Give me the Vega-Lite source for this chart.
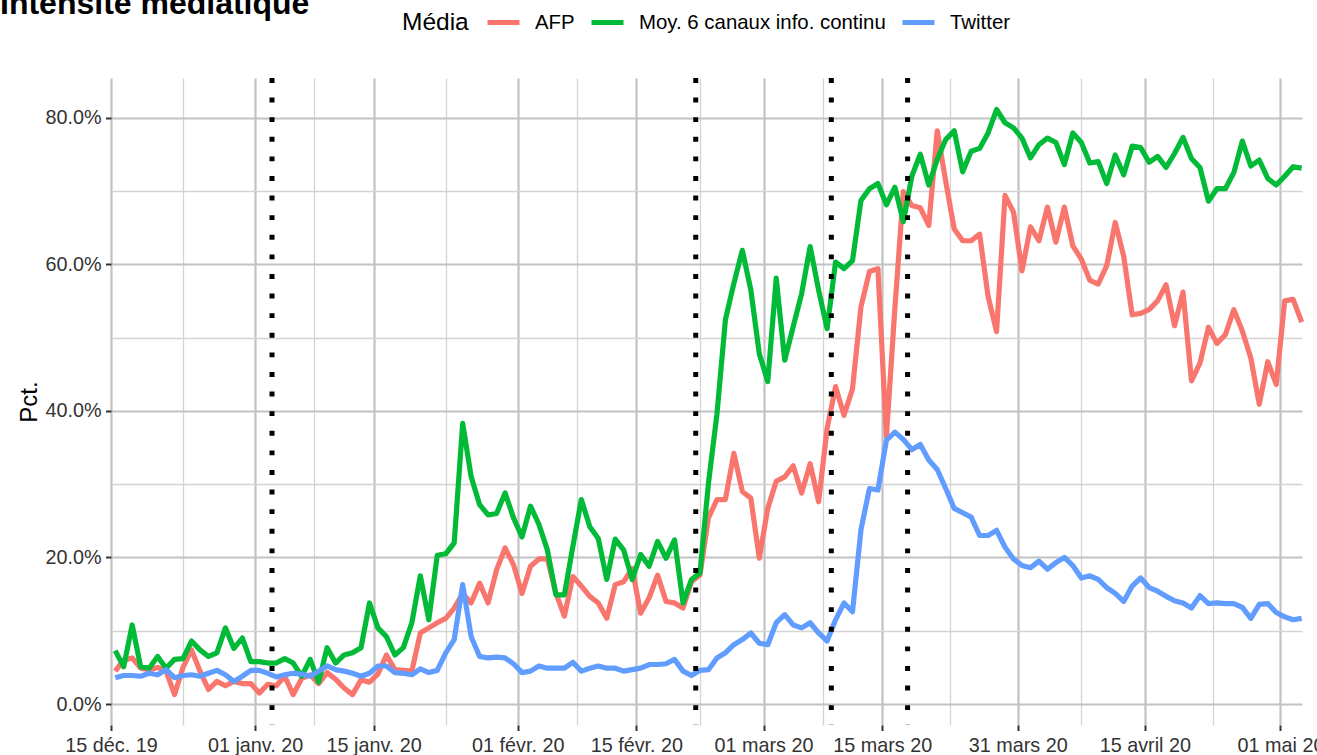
{
"$schema": "https://vega.github.io/schema/vega-lite/v6.json",
"width": 1191,
"height": 647,
"autosize": {"type": "none"},
"padding": {"left": 111, "top": 78, "right": 15, "bottom": 30},
"background": "white",
"config": {"font": "Liberation Sans", "view": {"stroke": null}},
"title": {"text": "Intensité médiatique", "anchor": "start", "frame": "group", "fontSize": 32, "fontWeight": "bold", "color": "black", "dx": -111, "offset": -42, "baseline": "alphabetic"},
"datasets": {
"events": [{"date": "2020-01-03T00:00Z"}, {"date": "2020-02-22T00:00Z"}, {"date": "2020-03-09T00:00Z"}, {"date": "2020-03-18T00:00Z"}],
"series": [
{"date":"2019-12-15T12:00Z","media":"AFP","pct":4.5},{"date":"2019-12-16T12:00Z","media":"AFP","pct":6.0},{"date":"2019-12-17T12:00Z","media":"AFP","pct":6.3},{"date":"2019-12-18T12:00Z","media":"AFP","pct":4.9},{"date":"2019-12-19T12:00Z","media":"AFP","pct":4.7},{"date":"2019-12-20T12:00Z","media":"AFP","pct":5.0},{"date":"2019-12-21T12:00Z","media":"AFP","pct":4.5},{"date":"2019-12-22T12:00Z","media":"AFP","pct":1.3},{"date":"2019-12-23T12:00Z","media":"AFP","pct":5.0},{"date":"2019-12-24T12:00Z","media":"AFP","pct":7.4},{"date":"2019-12-25T12:00Z","media":"AFP","pct":4.5},{"date":"2019-12-26T12:00Z","media":"AFP","pct":2.0},{"date":"2019-12-27T12:00Z","media":"AFP","pct":3.1},{"date":"2019-12-28T12:00Z","media":"AFP","pct":2.5},{"date":"2019-12-29T12:00Z","media":"AFP","pct":3.1},{"date":"2019-12-30T12:00Z","media":"AFP","pct":2.8},{"date":"2019-12-31T12:00Z","media":"AFP","pct":2.8},
{"date":"2020-01-01T12:00Z","media":"AFP","pct":1.5},{"date":"2020-01-02T12:00Z","media":"AFP","pct":2.7},{"date":"2020-01-03T12:00Z","media":"AFP","pct":2.5},{"date":"2020-01-04T12:00Z","media":"AFP","pct":3.8},{"date":"2020-01-05T12:00Z","media":"AFP","pct":1.3},{"date":"2020-01-06T12:00Z","media":"AFP","pct":3.5},{"date":"2020-01-07T12:00Z","media":"AFP","pct":4.0},{"date":"2020-01-08T12:00Z","media":"AFP","pct":2.8},{"date":"2020-01-09T12:00Z","media":"AFP","pct":4.3},{"date":"2020-01-10T12:00Z","media":"AFP","pct":3.4},{"date":"2020-01-11T12:00Z","media":"AFP","pct":2.2},{"date":"2020-01-12T12:00Z","media":"AFP","pct":1.3},{"date":"2020-01-13T12:00Z","media":"AFP","pct":3.3},{"date":"2020-01-14T12:00Z","media":"AFP","pct":3.0},{"date":"2020-01-15T12:00Z","media":"AFP","pct":4.1},{"date":"2020-01-16T12:00Z","media":"AFP","pct":6.7},{"date":"2020-01-17T12:00Z","media":"AFP","pct":4.7},{"date":"2020-01-18T12:00Z","media":"AFP","pct":4.6},{"date":"2020-01-19T12:00Z","media":"AFP","pct":4.5},{"date":"2020-01-20T12:00Z","media":"AFP","pct":9.7},{"date":"2020-01-21T12:00Z","media":"AFP","pct":10.4},{"date":"2020-01-22T12:00Z","media":"AFP","pct":11.1},{"date":"2020-01-23T12:00Z","media":"AFP","pct":11.7},{"date":"2020-01-24T12:00Z","media":"AFP","pct":13.1},{"date":"2020-01-25T12:00Z","media":"AFP","pct":15.1},{"date":"2020-01-26T12:00Z","media":"AFP","pct":13.8},{"date":"2020-01-27T12:00Z","media":"AFP","pct":16.5},{"date":"2020-01-28T12:00Z","media":"AFP","pct":13.8},{"date":"2020-01-29T12:00Z","media":"AFP","pct":18.3},{"date":"2020-01-30T12:00Z","media":"AFP","pct":21.3},{"date":"2020-01-31T12:00Z","media":"AFP","pct":19.0},
{"date":"2020-02-01T12:00Z","media":"AFP","pct":15.1},{"date":"2020-02-02T12:00Z","media":"AFP","pct":18.8},{"date":"2020-02-03T12:00Z","media":"AFP","pct":19.8},{"date":"2020-02-04T12:00Z","media":"AFP","pct":19.8},{"date":"2020-02-05T12:00Z","media":"AFP","pct":15.1},{"date":"2020-02-06T12:00Z","media":"AFP","pct":12.0},{"date":"2020-02-07T12:00Z","media":"AFP","pct":17.4},{"date":"2020-02-08T12:00Z","media":"AFP","pct":16.1},{"date":"2020-02-09T12:00Z","media":"AFP","pct":14.7},{"date":"2020-02-10T12:00Z","media":"AFP","pct":13.8},{"date":"2020-02-11T12:00Z","media":"AFP","pct":11.7},{"date":"2020-02-12T12:00Z","media":"AFP","pct":16.3},{"date":"2020-02-13T12:00Z","media":"AFP","pct":16.7},{"date":"2020-02-14T12:00Z","media":"AFP","pct":18.5},{"date":"2020-02-15T12:00Z","media":"AFP","pct":12.4},{"date":"2020-02-16T12:00Z","media":"AFP","pct":14.5},{"date":"2020-02-17T12:00Z","media":"AFP","pct":17.6},{"date":"2020-02-18T12:00Z","media":"AFP","pct":14.0},{"date":"2020-02-19T12:00Z","media":"AFP","pct":13.8},{"date":"2020-02-20T12:00Z","media":"AFP","pct":13.1},{"date":"2020-02-21T12:00Z","media":"AFP","pct":16.7},{"date":"2020-02-22T12:00Z","media":"AFP","pct":17.6},{"date":"2020-02-23T12:00Z","media":"AFP","pct":25.4},{"date":"2020-02-24T12:00Z","media":"AFP","pct":27.9},{"date":"2020-02-25T12:00Z","media":"AFP","pct":27.9},{"date":"2020-02-26T12:00Z","media":"AFP","pct":34.2},{"date":"2020-02-27T12:00Z","media":"AFP","pct":29.0},{"date":"2020-02-28T12:00Z","media":"AFP","pct":28.1},{"date":"2020-02-29T12:00Z","media":"AFP","pct":19.9},
{"date":"2020-03-01T12:00Z","media":"AFP","pct":26.7},{"date":"2020-03-02T12:00Z","media":"AFP","pct":30.4},{"date":"2020-03-03T12:00Z","media":"AFP","pct":31.0},{"date":"2020-03-04T12:00Z","media":"AFP","pct":32.5},{"date":"2020-03-05T12:00Z","media":"AFP","pct":28.8},{"date":"2020-03-06T12:00Z","media":"AFP","pct":32.8},{"date":"2020-03-07T12:00Z","media":"AFP","pct":27.6},{"date":"2020-03-08T12:00Z","media":"AFP","pct":37.6},{"date":"2020-03-09T12:00Z","media":"AFP","pct":43.3},{"date":"2020-03-10T12:00Z","media":"AFP","pct":39.4},{"date":"2020-03-11T12:00Z","media":"AFP","pct":43.0},{"date":"2020-03-12T12:00Z","media":"AFP","pct":54.2},{"date":"2020-03-13T12:00Z","media":"AFP","pct":59.0},{"date":"2020-03-14T12:00Z","media":"AFP","pct":59.4},{"date":"2020-03-15T12:00Z","media":"AFP","pct":36.5},{"date":"2020-03-16T12:00Z","media":"AFP","pct":54.0},{"date":"2020-03-17T12:00Z","media":"AFP","pct":69.9},{"date":"2020-03-18T12:00Z","media":"AFP","pct":68.0},{"date":"2020-03-19T12:00Z","media":"AFP","pct":67.7},{"date":"2020-03-20T12:00Z","media":"AFP","pct":65.3},{"date":"2020-03-21T12:00Z","media":"AFP","pct":78.2},{"date":"2020-03-22T12:00Z","media":"AFP","pct":71.3},{"date":"2020-03-23T12:00Z","media":"AFP","pct":64.8},{"date":"2020-03-24T12:00Z","media":"AFP","pct":63.2},{"date":"2020-03-25T12:00Z","media":"AFP","pct":63.2},{"date":"2020-03-26T12:00Z","media":"AFP","pct":64.1},{"date":"2020-03-27T12:00Z","media":"AFP","pct":55.6},{"date":"2020-03-28T12:00Z","media":"AFP","pct":50.8},{"date":"2020-03-29T12:00Z","media":"AFP","pct":69.4},{"date":"2020-03-30T12:00Z","media":"AFP","pct":67.1},{"date":"2020-03-31T12:00Z","media":"AFP","pct":59.1},
{"date":"2020-04-01T12:00Z","media":"AFP","pct":65.1},{"date":"2020-04-02T12:00Z","media":"AFP","pct":63.2},{"date":"2020-04-03T12:00Z","media":"AFP","pct":67.8},{"date":"2020-04-04T12:00Z","media":"AFP","pct":63.0},{"date":"2020-04-05T12:00Z","media":"AFP","pct":67.8},{"date":"2020-04-06T12:00Z","media":"AFP","pct":62.5},{"date":"2020-04-07T12:00Z","media":"AFP","pct":60.7},{"date":"2020-04-08T12:00Z","media":"AFP","pct":57.8},{"date":"2020-04-09T12:00Z","media":"AFP","pct":57.3},{"date":"2020-04-10T12:00Z","media":"AFP","pct":59.8},{"date":"2020-04-11T12:00Z","media":"AFP","pct":65.7},{"date":"2020-04-12T12:00Z","media":"AFP","pct":61.1},{"date":"2020-04-13T12:00Z","media":"AFP","pct":53.1},{"date":"2020-04-14T12:00Z","media":"AFP","pct":53.3},{"date":"2020-04-15T12:00Z","media":"AFP","pct":53.8},{"date":"2020-04-16T12:00Z","media":"AFP","pct":55.0},{"date":"2020-04-17T12:00Z","media":"AFP","pct":57.2},{"date":"2020-04-18T12:00Z","media":"AFP","pct":51.6},{"date":"2020-04-19T12:00Z","media":"AFP","pct":56.2},{"date":"2020-04-20T12:00Z","media":"AFP","pct":44.1},{"date":"2020-04-21T12:00Z","media":"AFP","pct":46.5},{"date":"2020-04-22T12:00Z","media":"AFP","pct":51.4},{"date":"2020-04-23T12:00Z","media":"AFP","pct":49.2},{"date":"2020-04-24T12:00Z","media":"AFP","pct":50.4},{"date":"2020-04-25T12:00Z","media":"AFP","pct":53.8},{"date":"2020-04-26T12:00Z","media":"AFP","pct":50.9},{"date":"2020-04-27T12:00Z","media":"AFP","pct":47.2},{"date":"2020-04-28T12:00Z","media":"AFP","pct":40.9},{"date":"2020-04-29T12:00Z","media":"AFP","pct":46.7},{"date":"2020-04-30T12:00Z","media":"AFP","pct":43.6},{"date":"2020-05-01T12:00Z","media":"AFP","pct":55.0},{"date":"2020-05-02T12:00Z","media":"AFP","pct":55.2},{"date":"2020-05-03T12:00Z","media":"AFP","pct":52.1},
{"date":"2019-12-15T12:00Z","media":"Moy. 6 canaux info. continu","pct":7.3},{"date":"2019-12-16T12:00Z","media":"Moy. 6 canaux info. continu","pct":5.1},{"date":"2019-12-17T12:00Z","media":"Moy. 6 canaux info. continu","pct":10.8},{"date":"2019-12-18T12:00Z","media":"Moy. 6 canaux info. continu","pct":5.1},{"date":"2019-12-19T12:00Z","media":"Moy. 6 canaux info. continu","pct":4.9},{"date":"2019-12-20T12:00Z","media":"Moy. 6 canaux info. continu","pct":6.5},{"date":"2019-12-21T12:00Z","media":"Moy. 6 canaux info. continu","pct":4.9},{"date":"2019-12-22T12:00Z","media":"Moy. 6 canaux info. continu","pct":6.1},{"date":"2019-12-23T12:00Z","media":"Moy. 6 canaux info. continu","pct":6.2},{"date":"2019-12-24T12:00Z","media":"Moy. 6 canaux info. continu","pct":8.6},{"date":"2019-12-25T12:00Z","media":"Moy. 6 canaux info. continu","pct":7.4},{"date":"2019-12-26T12:00Z","media":"Moy. 6 canaux info. continu","pct":6.5},{"date":"2019-12-27T12:00Z","media":"Moy. 6 canaux info. continu","pct":7.0},{"date":"2019-12-28T12:00Z","media":"Moy. 6 canaux info. continu","pct":10.4},{"date":"2019-12-29T12:00Z","media":"Moy. 6 canaux info. continu","pct":7.6},{"date":"2019-12-30T12:00Z","media":"Moy. 6 canaux info. continu","pct":9.0},{"date":"2019-12-31T12:00Z","media":"Moy. 6 canaux info. continu","pct":5.8},
{"date":"2020-01-01T12:00Z","media":"Moy. 6 canaux info. continu","pct":5.8},{"date":"2020-01-02T12:00Z","media":"Moy. 6 canaux info. continu","pct":5.6},{"date":"2020-01-03T12:00Z","media":"Moy. 6 canaux info. continu","pct":5.6},{"date":"2020-01-04T12:00Z","media":"Moy. 6 canaux info. continu","pct":6.2},{"date":"2020-01-05T12:00Z","media":"Moy. 6 canaux info. continu","pct":5.6},{"date":"2020-01-06T12:00Z","media":"Moy. 6 canaux info. continu","pct":3.8},{"date":"2020-01-07T12:00Z","media":"Moy. 6 canaux info. continu","pct":6.1},{"date":"2020-01-08T12:00Z","media":"Moy. 6 canaux info. continu","pct":3.0},{"date":"2020-01-09T12:00Z","media":"Moy. 6 canaux info. continu","pct":7.7},{"date":"2020-01-10T12:00Z","media":"Moy. 6 canaux info. continu","pct":5.6},{"date":"2020-01-11T12:00Z","media":"Moy. 6 canaux info. continu","pct":6.7},{"date":"2020-01-12T12:00Z","media":"Moy. 6 canaux info. continu","pct":7.0},{"date":"2020-01-13T12:00Z","media":"Moy. 6 canaux info. continu","pct":7.7},{"date":"2020-01-14T12:00Z","media":"Moy. 6 canaux info. continu","pct":13.8},{"date":"2020-01-15T12:00Z","media":"Moy. 6 canaux info. continu","pct":10.4},{"date":"2020-01-16T12:00Z","media":"Moy. 6 canaux info. continu","pct":9.2},{"date":"2020-01-17T12:00Z","media":"Moy. 6 canaux info. continu","pct":6.7},{"date":"2020-01-18T12:00Z","media":"Moy. 6 canaux info. continu","pct":7.7},{"date":"2020-01-19T12:00Z","media":"Moy. 6 canaux info. continu","pct":11.1},{"date":"2020-01-20T12:00Z","media":"Moy. 6 canaux info. continu","pct":17.5},{"date":"2020-01-21T12:00Z","media":"Moy. 6 canaux info. continu","pct":11.5},{"date":"2020-01-22T12:00Z","media":"Moy. 6 canaux info. continu","pct":20.3},{"date":"2020-01-23T12:00Z","media":"Moy. 6 canaux info. continu","pct":20.5},{"date":"2020-01-24T12:00Z","media":"Moy. 6 canaux info. continu","pct":22.0},{"date":"2020-01-25T12:00Z","media":"Moy. 6 canaux info. continu","pct":38.3},{"date":"2020-01-26T12:00Z","media":"Moy. 6 canaux info. continu","pct":31.0},{"date":"2020-01-27T12:00Z","media":"Moy. 6 canaux info. continu","pct":27.2},{"date":"2020-01-28T12:00Z","media":"Moy. 6 canaux info. continu","pct":25.8},{"date":"2020-01-29T12:00Z","media":"Moy. 6 canaux info. continu","pct":26.0},{"date":"2020-01-30T12:00Z","media":"Moy. 6 canaux info. continu","pct":28.8},{"date":"2020-01-31T12:00Z","media":"Moy. 6 canaux info. continu","pct":25.4},
{"date":"2020-02-01T12:00Z","media":"Moy. 6 canaux info. continu","pct":22.8},{"date":"2020-02-02T12:00Z","media":"Moy. 6 canaux info. continu","pct":27.0},{"date":"2020-02-03T12:00Z","media":"Moy. 6 canaux info. continu","pct":24.5},{"date":"2020-02-04T12:00Z","media":"Moy. 6 canaux info. continu","pct":21.0},{"date":"2020-02-05T12:00Z","media":"Moy. 6 canaux info. continu","pct":14.9},{"date":"2020-02-06T12:00Z","media":"Moy. 6 canaux info. continu","pct":14.9},{"date":"2020-02-07T12:00Z","media":"Moy. 6 canaux info. continu","pct":21.5},{"date":"2020-02-08T12:00Z","media":"Moy. 6 canaux info. continu","pct":27.9},{"date":"2020-02-09T12:00Z","media":"Moy. 6 canaux info. continu","pct":24.2},{"date":"2020-02-10T12:00Z","media":"Moy. 6 canaux info. continu","pct":22.6},{"date":"2020-02-11T12:00Z","media":"Moy. 6 canaux info. continu","pct":17.0},{"date":"2020-02-12T12:00Z","media":"Moy. 6 canaux info. continu","pct":22.5},{"date":"2020-02-13T12:00Z","media":"Moy. 6 canaux info. continu","pct":21.0},{"date":"2020-02-14T12:00Z","media":"Moy. 6 canaux info. continu","pct":17.0},{"date":"2020-02-15T12:00Z","media":"Moy. 6 canaux info. continu","pct":20.4},{"date":"2020-02-16T12:00Z","media":"Moy. 6 canaux info. continu","pct":18.8},{"date":"2020-02-17T12:00Z","media":"Moy. 6 canaux info. continu","pct":22.2},{"date":"2020-02-18T12:00Z","media":"Moy. 6 canaux info. continu","pct":19.9},{"date":"2020-02-19T12:00Z","media":"Moy. 6 canaux info. continu","pct":22.4},{"date":"2020-02-20T12:00Z","media":"Moy. 6 canaux info. continu","pct":13.8},{"date":"2020-02-21T12:00Z","media":"Moy. 6 canaux info. continu","pct":17.0},{"date":"2020-02-22T12:00Z","media":"Moy. 6 canaux info. continu","pct":17.9},{"date":"2020-02-23T12:00Z","media":"Moy. 6 canaux info. continu","pct":30.1},{"date":"2020-02-24T12:00Z","media":"Moy. 6 canaux info. continu","pct":39.5},{"date":"2020-02-25T12:00Z","media":"Moy. 6 canaux info. continu","pct":52.4},{"date":"2020-02-26T12:00Z","media":"Moy. 6 canaux info. continu","pct":57.4},{"date":"2020-02-27T12:00Z","media":"Moy. 6 canaux info. continu","pct":61.9},{"date":"2020-02-28T12:00Z","media":"Moy. 6 canaux info. continu","pct":56.5},{"date":"2020-02-29T12:00Z","media":"Moy. 6 canaux info. continu","pct":47.8},
{"date":"2020-03-01T12:00Z","media":"Moy. 6 canaux info. continu","pct":44.0},{"date":"2020-03-02T12:00Z","media":"Moy. 6 canaux info. continu","pct":58.1},{"date":"2020-03-03T12:00Z","media":"Moy. 6 canaux info. continu","pct":46.9},{"date":"2020-03-04T12:00Z","media":"Moy. 6 canaux info. continu","pct":51.5},{"date":"2020-03-05T12:00Z","media":"Moy. 6 canaux info. continu","pct":56.0},{"date":"2020-03-06T12:00Z","media":"Moy. 6 canaux info. continu","pct":62.4},{"date":"2020-03-07T12:00Z","media":"Moy. 6 canaux info. continu","pct":56.5},{"date":"2020-03-08T12:00Z","media":"Moy. 6 canaux info. continu","pct":51.2},{"date":"2020-03-09T12:00Z","media":"Moy. 6 canaux info. continu","pct":60.3},{"date":"2020-03-10T12:00Z","media":"Moy. 6 canaux info. continu","pct":59.4},{"date":"2020-03-11T12:00Z","media":"Moy. 6 canaux info. continu","pct":60.5},{"date":"2020-03-12T12:00Z","media":"Moy. 6 canaux info. continu","pct":68.7},{"date":"2020-03-13T12:00Z","media":"Moy. 6 canaux info. continu","pct":70.3},{"date":"2020-03-14T12:00Z","media":"Moy. 6 canaux info. continu","pct":71.0},{"date":"2020-03-15T12:00Z","media":"Moy. 6 canaux info. continu","pct":68.1},{"date":"2020-03-16T12:00Z","media":"Moy. 6 canaux info. continu","pct":70.5},{"date":"2020-03-17T12:00Z","media":"Moy. 6 canaux info. continu","pct":65.8},{"date":"2020-03-18T12:00Z","media":"Moy. 6 canaux info. continu","pct":72.0},{"date":"2020-03-19T12:00Z","media":"Moy. 6 canaux info. continu","pct":75.0},{"date":"2020-03-20T12:00Z","media":"Moy. 6 canaux info. continu","pct":70.8},{"date":"2020-03-21T12:00Z","media":"Moy. 6 canaux info. continu","pct":74.3},{"date":"2020-03-22T12:00Z","media":"Moy. 6 canaux info. continu","pct":77.0},{"date":"2020-03-23T12:00Z","media":"Moy. 6 canaux info. continu","pct":78.2},{"date":"2020-03-24T12:00Z","media":"Moy. 6 canaux info. continu","pct":72.6},{"date":"2020-03-25T12:00Z","media":"Moy. 6 canaux info. continu","pct":75.4},{"date":"2020-03-26T12:00Z","media":"Moy. 6 canaux info. continu","pct":75.8},{"date":"2020-03-27T12:00Z","media":"Moy. 6 canaux info. continu","pct":77.9},{"date":"2020-03-28T12:00Z","media":"Moy. 6 canaux info. continu","pct":81.1},{"date":"2020-03-29T12:00Z","media":"Moy. 6 canaux info. continu","pct":79.3},{"date":"2020-03-30T12:00Z","media":"Moy. 6 canaux info. continu","pct":78.6},{"date":"2020-03-31T12:00Z","media":"Moy. 6 canaux info. continu","pct":77.2},
{"date":"2020-04-01T12:00Z","media":"Moy. 6 canaux info. continu","pct":74.5},{"date":"2020-04-02T12:00Z","media":"Moy. 6 canaux info. continu","pct":76.3},{"date":"2020-04-03T12:00Z","media":"Moy. 6 canaux info. continu","pct":77.2},{"date":"2020-04-04T12:00Z","media":"Moy. 6 canaux info. continu","pct":76.6},{"date":"2020-04-05T12:00Z","media":"Moy. 6 canaux info. continu","pct":73.6},{"date":"2020-04-06T12:00Z","media":"Moy. 6 canaux info. continu","pct":77.9},{"date":"2020-04-07T12:00Z","media":"Moy. 6 canaux info. continu","pct":76.6},{"date":"2020-04-08T12:00Z","media":"Moy. 6 canaux info. continu","pct":73.8},{"date":"2020-04-09T12:00Z","media":"Moy. 6 canaux info. continu","pct":74.0},{"date":"2020-04-10T12:00Z","media":"Moy. 6 canaux info. continu","pct":71.0},{"date":"2020-04-11T12:00Z","media":"Moy. 6 canaux info. continu","pct":74.9},{"date":"2020-04-12T12:00Z","media":"Moy. 6 canaux info. continu","pct":72.2},{"date":"2020-04-13T12:00Z","media":"Moy. 6 canaux info. continu","pct":76.1},{"date":"2020-04-14T12:00Z","media":"Moy. 6 canaux info. continu","pct":75.9},{"date":"2020-04-15T12:00Z","media":"Moy. 6 canaux info. continu","pct":73.9},{"date":"2020-04-16T12:00Z","media":"Moy. 6 canaux info. continu","pct":74.7},{"date":"2020-04-17T12:00Z","media":"Moy. 6 canaux info. continu","pct":73.2},{"date":"2020-04-18T12:00Z","media":"Moy. 6 canaux info. continu","pct":75.1},{"date":"2020-04-19T12:00Z","media":"Moy. 6 canaux info. continu","pct":77.3},{"date":"2020-04-20T12:00Z","media":"Moy. 6 canaux info. continu","pct":74.4},{"date":"2020-04-21T12:00Z","media":"Moy. 6 canaux info. continu","pct":73.2},{"date":"2020-04-22T12:00Z","media":"Moy. 6 canaux info. continu","pct":68.6},{"date":"2020-04-23T12:00Z","media":"Moy. 6 canaux info. continu","pct":70.3},{"date":"2020-04-24T12:00Z","media":"Moy. 6 canaux info. continu","pct":70.3},{"date":"2020-04-25T12:00Z","media":"Moy. 6 canaux info. continu","pct":72.5},{"date":"2020-04-26T12:00Z","media":"Moy. 6 canaux info. continu","pct":76.8},{"date":"2020-04-27T12:00Z","media":"Moy. 6 canaux info. continu","pct":73.4},{"date":"2020-04-28T12:00Z","media":"Moy. 6 canaux info. continu","pct":74.2},{"date":"2020-04-29T12:00Z","media":"Moy. 6 canaux info. continu","pct":71.7},{"date":"2020-04-30T12:00Z","media":"Moy. 6 canaux info. continu","pct":70.8},{"date":"2020-05-01T12:00Z","media":"Moy. 6 canaux info. continu","pct":72.0},{"date":"2020-05-02T12:00Z","media":"Moy. 6 canaux info. continu","pct":73.3},{"date":"2020-05-03T12:00Z","media":"Moy. 6 canaux info. continu","pct":73.1},
{"date":"2019-12-15T12:00Z","media":"Twitter","pct":3.6},{"date":"2019-12-16T12:00Z","media":"Twitter","pct":3.9},{"date":"2019-12-17T12:00Z","media":"Twitter","pct":3.9},{"date":"2019-12-18T12:00Z","media":"Twitter","pct":3.8},{"date":"2019-12-19T12:00Z","media":"Twitter","pct":4.2},{"date":"2019-12-20T12:00Z","media":"Twitter","pct":4.0},{"date":"2019-12-21T12:00Z","media":"Twitter","pct":4.7},{"date":"2019-12-22T12:00Z","media":"Twitter","pct":3.6},{"date":"2019-12-23T12:00Z","media":"Twitter","pct":3.9},{"date":"2019-12-24T12:00Z","media":"Twitter","pct":4.0},{"date":"2019-12-25T12:00Z","media":"Twitter","pct":3.8},{"date":"2019-12-26T12:00Z","media":"Twitter","pct":4.2},{"date":"2019-12-27T12:00Z","media":"Twitter","pct":4.6},{"date":"2019-12-28T12:00Z","media":"Twitter","pct":4.0},{"date":"2019-12-29T12:00Z","media":"Twitter","pct":3.1},{"date":"2019-12-30T12:00Z","media":"Twitter","pct":3.8},{"date":"2019-12-31T12:00Z","media":"Twitter","pct":4.6},
{"date":"2020-01-01T12:00Z","media":"Twitter","pct":4.6},{"date":"2020-01-02T12:00Z","media":"Twitter","pct":4.2},{"date":"2020-01-03T12:00Z","media":"Twitter","pct":3.7},{"date":"2020-01-04T12:00Z","media":"Twitter","pct":4.0},{"date":"2020-01-05T12:00Z","media":"Twitter","pct":4.2},{"date":"2020-01-06T12:00Z","media":"Twitter","pct":4.1},{"date":"2020-01-07T12:00Z","media":"Twitter","pct":3.8},{"date":"2020-01-08T12:00Z","media":"Twitter","pct":4.5},{"date":"2020-01-09T12:00Z","media":"Twitter","pct":5.2},{"date":"2020-01-10T12:00Z","media":"Twitter","pct":4.7},{"date":"2020-01-11T12:00Z","media":"Twitter","pct":4.5},{"date":"2020-01-12T12:00Z","media":"Twitter","pct":4.2},{"date":"2020-01-13T12:00Z","media":"Twitter","pct":3.8},{"date":"2020-01-14T12:00Z","media":"Twitter","pct":4.2},{"date":"2020-01-15T12:00Z","media":"Twitter","pct":5.2},{"date":"2020-01-16T12:00Z","media":"Twitter","pct":5.2},{"date":"2020-01-17T12:00Z","media":"Twitter","pct":4.3},{"date":"2020-01-18T12:00Z","media":"Twitter","pct":4.2},{"date":"2020-01-19T12:00Z","media":"Twitter","pct":4.0},{"date":"2020-01-20T12:00Z","media":"Twitter","pct":4.8},{"date":"2020-01-21T12:00Z","media":"Twitter","pct":4.3},{"date":"2020-01-22T12:00Z","media":"Twitter","pct":4.6},{"date":"2020-01-23T12:00Z","media":"Twitter","pct":7.0},{"date":"2020-01-24T12:00Z","media":"Twitter","pct":8.8},{"date":"2020-01-25T12:00Z","media":"Twitter","pct":16.3},{"date":"2020-01-26T12:00Z","media":"Twitter","pct":9.2},{"date":"2020-01-27T12:00Z","media":"Twitter","pct":6.5},{"date":"2020-01-28T12:00Z","media":"Twitter","pct":6.3},{"date":"2020-01-29T12:00Z","media":"Twitter","pct":6.4},{"date":"2020-01-30T12:00Z","media":"Twitter","pct":6.3},{"date":"2020-01-31T12:00Z","media":"Twitter","pct":5.5},
{"date":"2020-02-01T12:00Z","media":"Twitter","pct":4.3},{"date":"2020-02-02T12:00Z","media":"Twitter","pct":4.5},{"date":"2020-02-03T12:00Z","media":"Twitter","pct":5.2},{"date":"2020-02-04T12:00Z","media":"Twitter","pct":4.9},{"date":"2020-02-05T12:00Z","media":"Twitter","pct":4.9},{"date":"2020-02-06T12:00Z","media":"Twitter","pct":4.9},{"date":"2020-02-07T12:00Z","media":"Twitter","pct":5.7},{"date":"2020-02-08T12:00Z","media":"Twitter","pct":4.5},{"date":"2020-02-09T12:00Z","media":"Twitter","pct":4.9},{"date":"2020-02-10T12:00Z","media":"Twitter","pct":5.2},{"date":"2020-02-11T12:00Z","media":"Twitter","pct":4.9},{"date":"2020-02-12T12:00Z","media":"Twitter","pct":4.9},{"date":"2020-02-13T12:00Z","media":"Twitter","pct":4.5},{"date":"2020-02-14T12:00Z","media":"Twitter","pct":4.7},{"date":"2020-02-15T12:00Z","media":"Twitter","pct":4.9},{"date":"2020-02-16T12:00Z","media":"Twitter","pct":5.4},{"date":"2020-02-17T12:00Z","media":"Twitter","pct":5.4},{"date":"2020-02-18T12:00Z","media":"Twitter","pct":5.5},{"date":"2020-02-19T12:00Z","media":"Twitter","pct":6.1},{"date":"2020-02-20T12:00Z","media":"Twitter","pct":4.5},{"date":"2020-02-21T12:00Z","media":"Twitter","pct":3.9},{"date":"2020-02-22T12:00Z","media":"Twitter","pct":4.6},{"date":"2020-02-23T12:00Z","media":"Twitter","pct":4.7},{"date":"2020-02-24T12:00Z","media":"Twitter","pct":6.3},{"date":"2020-02-25T12:00Z","media":"Twitter","pct":7.0},{"date":"2020-02-26T12:00Z","media":"Twitter","pct":8.1},{"date":"2020-02-27T12:00Z","media":"Twitter","pct":8.8},{"date":"2020-02-28T12:00Z","media":"Twitter","pct":9.7},{"date":"2020-02-29T12:00Z","media":"Twitter","pct":8.3},
{"date":"2020-03-01T12:00Z","media":"Twitter","pct":8.1},{"date":"2020-03-02T12:00Z","media":"Twitter","pct":11.1},{"date":"2020-03-03T12:00Z","media":"Twitter","pct":12.2},{"date":"2020-03-04T12:00Z","media":"Twitter","pct":10.8},{"date":"2020-03-05T12:00Z","media":"Twitter","pct":10.4},{"date":"2020-03-06T12:00Z","media":"Twitter","pct":11.1},{"date":"2020-03-07T12:00Z","media":"Twitter","pct":9.7},{"date":"2020-03-08T12:00Z","media":"Twitter","pct":8.6},{"date":"2020-03-09T12:00Z","media":"Twitter","pct":11.5},{"date":"2020-03-10T12:00Z","media":"Twitter","pct":13.8},{"date":"2020-03-11T12:00Z","media":"Twitter","pct":12.6},{"date":"2020-03-12T12:00Z","media":"Twitter","pct":23.8},{"date":"2020-03-13T12:00Z","media":"Twitter","pct":29.4},{"date":"2020-03-14T12:00Z","media":"Twitter","pct":29.2},{"date":"2020-03-15T12:00Z","media":"Twitter","pct":36.0},{"date":"2020-03-16T12:00Z","media":"Twitter","pct":37.1},{"date":"2020-03-17T12:00Z","media":"Twitter","pct":36.1},{"date":"2020-03-18T12:00Z","media":"Twitter","pct":34.7},{"date":"2020-03-19T12:00Z","media":"Twitter","pct":35.4},{"date":"2020-03-20T12:00Z","media":"Twitter","pct":33.3},{"date":"2020-03-21T12:00Z","media":"Twitter","pct":32.0},{"date":"2020-03-22T12:00Z","media":"Twitter","pct":29.4},{"date":"2020-03-23T12:00Z","media":"Twitter","pct":26.7},{"date":"2020-03-24T12:00Z","media":"Twitter","pct":26.1},{"date":"2020-03-25T12:00Z","media":"Twitter","pct":25.5},{"date":"2020-03-26T12:00Z","media":"Twitter","pct":23.0},{"date":"2020-03-27T12:00Z","media":"Twitter","pct":23.0},{"date":"2020-03-28T12:00Z","media":"Twitter","pct":23.7},{"date":"2020-03-29T12:00Z","media":"Twitter","pct":21.4},{"date":"2020-03-30T12:00Z","media":"Twitter","pct":19.8},{"date":"2020-03-31T12:00Z","media":"Twitter","pct":18.9},
{"date":"2020-04-01T12:00Z","media":"Twitter","pct":18.6},{"date":"2020-04-02T12:00Z","media":"Twitter","pct":19.5},{"date":"2020-04-03T12:00Z","media":"Twitter","pct":18.4},{"date":"2020-04-04T12:00Z","media":"Twitter","pct":19.3},{"date":"2020-04-05T12:00Z","media":"Twitter","pct":20.0},{"date":"2020-04-06T12:00Z","media":"Twitter","pct":18.9},{"date":"2020-04-07T12:00Z","media":"Twitter","pct":17.2},{"date":"2020-04-08T12:00Z","media":"Twitter","pct":17.5},{"date":"2020-04-09T12:00Z","media":"Twitter","pct":17.0},{"date":"2020-04-10T12:00Z","media":"Twitter","pct":15.9},{"date":"2020-04-11T12:00Z","media":"Twitter","pct":15.1},{"date":"2020-04-12T12:00Z","media":"Twitter","pct":14.0},{"date":"2020-04-13T12:00Z","media":"Twitter","pct":16.1},{"date":"2020-04-14T12:00Z","media":"Twitter","pct":17.2},{"date":"2020-04-15T12:00Z","media":"Twitter","pct":15.9},{"date":"2020-04-16T12:00Z","media":"Twitter","pct":15.4},{"date":"2020-04-17T12:00Z","media":"Twitter","pct":14.7},{"date":"2020-04-18T12:00Z","media":"Twitter","pct":14.1},{"date":"2020-04-19T12:00Z","media":"Twitter","pct":13.8},{"date":"2020-04-20T12:00Z","media":"Twitter","pct":13.1},{"date":"2020-04-21T12:00Z","media":"Twitter","pct":14.8},{"date":"2020-04-22T12:00Z","media":"Twitter","pct":13.7},{"date":"2020-04-23T12:00Z","media":"Twitter","pct":13.8},{"date":"2020-04-24T12:00Z","media":"Twitter","pct":13.7},{"date":"2020-04-25T12:00Z","media":"Twitter","pct":13.7},{"date":"2020-04-26T12:00Z","media":"Twitter","pct":13.2},{"date":"2020-04-27T12:00Z","media":"Twitter","pct":11.7},{"date":"2020-04-28T12:00Z","media":"Twitter","pct":13.6},{"date":"2020-04-29T12:00Z","media":"Twitter","pct":13.7},{"date":"2020-04-30T12:00Z","media":"Twitter","pct":12.5},{"date":"2020-05-01T12:00Z","media":"Twitter","pct":11.9},{"date":"2020-05-02T12:00Z","media":"Twitter","pct":11.5},{"date":"2020-05-03T12:00Z","media":"Twitter","pct":11.7}
]
},
"data": {"name": "series"},
"layer": [
{
"mark": {"type": "line", "opacity": 0},
"encoding": {
"x": {"field": "date", "type": "temporal",
"scale": {"type": "utc", "domain": [{"year": 2019, "month": 12, "date": 15, "utc": true}, {"year": 2020, "month": 5, "date": 3, "hours": 13, "utc": true}]},
"axis": {"orient": "bottom", "title": null, "labels": false, "ticks": false, "domain": false, "grid": true, "gridColor": "#D4D4D4", "gridWidth": 1.3,
"values": [{"year": 2019, "month": 12, "date": 23, "hours": 12, "utc": true}, {"year": 2020, "month": 1, "date": 8, "utc": true}, {"year": 2020, "month": 1, "date": 23, "hours": 12, "utc": true}, {"year": 2020, "month": 2, "date": 8, "utc": true}, {"year": 2020, "month": 2, "date": 22, "hours": 12, "utc": true}, {"year": 2020, "month": 3, "date": 8, "utc": true}, {"year": 2020, "month": 3, "date": 23, "utc": true}, {"year": 2020, "month": 4, "date": 7, "hours": 12, "utc": true}, {"year": 2020, "month": 4, "date": 23, "utc": true}]}},
"y": {"field": "pct", "type": "quantitative",
"scale": {"domain": [-2.85, 85.4], "nice": false, "zero": false},
"axis": {"orient": "left", "title": null, "labels": false, "ticks": false, "domain": false, "grid": true, "gridColor": "#D4D4D4", "gridWidth": 1.3, "values": [10, 30, 50, 70]}}
}
},
{
"mark": {"type": "line", "strokeWidth": 5.2, "strokeJoin": "round", "strokeCap": "butt"},
"encoding": {
"x": {"field": "date", "type": "temporal",
"scale": {"type": "utc", "domain": [{"year": 2019, "month": 12, "date": 15, "utc": true}, {"year": 2020, "month": 5, "date": 3, "hours": 13, "utc": true}]},
"axis": {"orient": "bottom", "title": null, "domain": false, "grid": true, "gridColor": "#C2C2C2", "gridWidth": 2.2, "ticks": true, "tickColor": "#333333", "tickSize": 5.5, "tickWidth": 2, "labelFontSize": 19.8, "labelColor": "#333333", "labelPadding": 5, "labelFlush": false, "labelOverlap": false, "labelBound": false,
"values": [{"year": 2019, "month": 12, "date": 15, "utc": true}, {"year": 2020, "month": 1, "date": 1, "utc": true}, {"year": 2020, "month": 1, "date": 15, "utc": true}, {"year": 2020, "month": 2, "date": 1, "utc": true}, {"year": 2020, "month": 2, "date": 15, "utc": true}, {"year": 2020, "month": 3, "date": 1, "utc": true}, {"year": 2020, "month": 3, "date": 15, "utc": true}, {"year": 2020, "month": 3, "date": 31, "utc": true}, {"year": 2020, "month": 4, "date": 15, "utc": true}, {"year": 2020, "month": 5, "date": 1, "utc": true}],
"labelExpr": "utcFormat(datum.value, '%d') + ' ' + ['janv.','févr.','mars','avril','mai','juin','juil.','août','sept.','oct.','nov.','déc.'][utcmonth(datum.value)] + ' ' + utcFormat(datum.value, '%y')"}},
"y": {"field": "pct", "type": "quantitative",
"scale": {"domain": [-2.85, 85.4], "nice": false, "zero": false},
"axis": {"orient": "left", "title": "Pct.", "titleFontSize": 24, "titleFontWeight": "normal", "titleColor": "black", "titlePadding": 3, "domain": false, "grid": true, "gridColor": "#C2C2C2", "gridWidth": 2.2, "ticks": true, "tickColor": "#333333", "tickSize": 5.5, "tickWidth": 2, "labelFontSize": 19.8, "labelColor": "#333333", "labelPadding": 4.5, "labelFlush": false, "labelOverlap": false, "values": [0, 20, 40, 60, 80], "labelExpr": "format(datum.value, '.1f') + '%'"}},
"color": {"field": "media", "type": "nominal",
"scale": {"domain": ["AFP", "Moy. 6 canaux info. continu", "Twitter"], "range": ["#F8766D", "#00BA38", "#619CFF"]},
"legend": {"orient": "none", "legendX": 291, "legendY": -74, "direction": "horizontal", "title": "Média", "titleOrient": "left", "titleBaseline": "line-top", "titleLineHeight": 9, "titleFontSize": 24.5, "titleFontWeight": "normal", "titleColor": "black", "titlePadding": 16, "labelFontSize": 20.4, "labelColor": "black", "labelOffset": 13, "columnPadding": 6, "symbolType": "stroke", "symbolSize": 1024, "symbolStrokeWidth": 5, "labelLimit": 400, "padding": 0}}
}
},
{
"data": {"name": "events"},
"mark": {"type": "rule", "color": "black", "strokeWidth": 5, "strokeDash": [4.9, 14.7], "strokeCap": "butt"},
"encoding": {
"x": {"field": "date", "type": "temporal",
"scale": {"type": "utc", "domain": [{"year": 2019, "month": 12, "date": 15, "utc": true}, {"year": 2020, "month": 5, "date": 3, "hours": 13, "utc": true}]},
"axis": null}
}
}
],
"resolve": {"axis": {"x": "independent", "y": "independent"}}
}
